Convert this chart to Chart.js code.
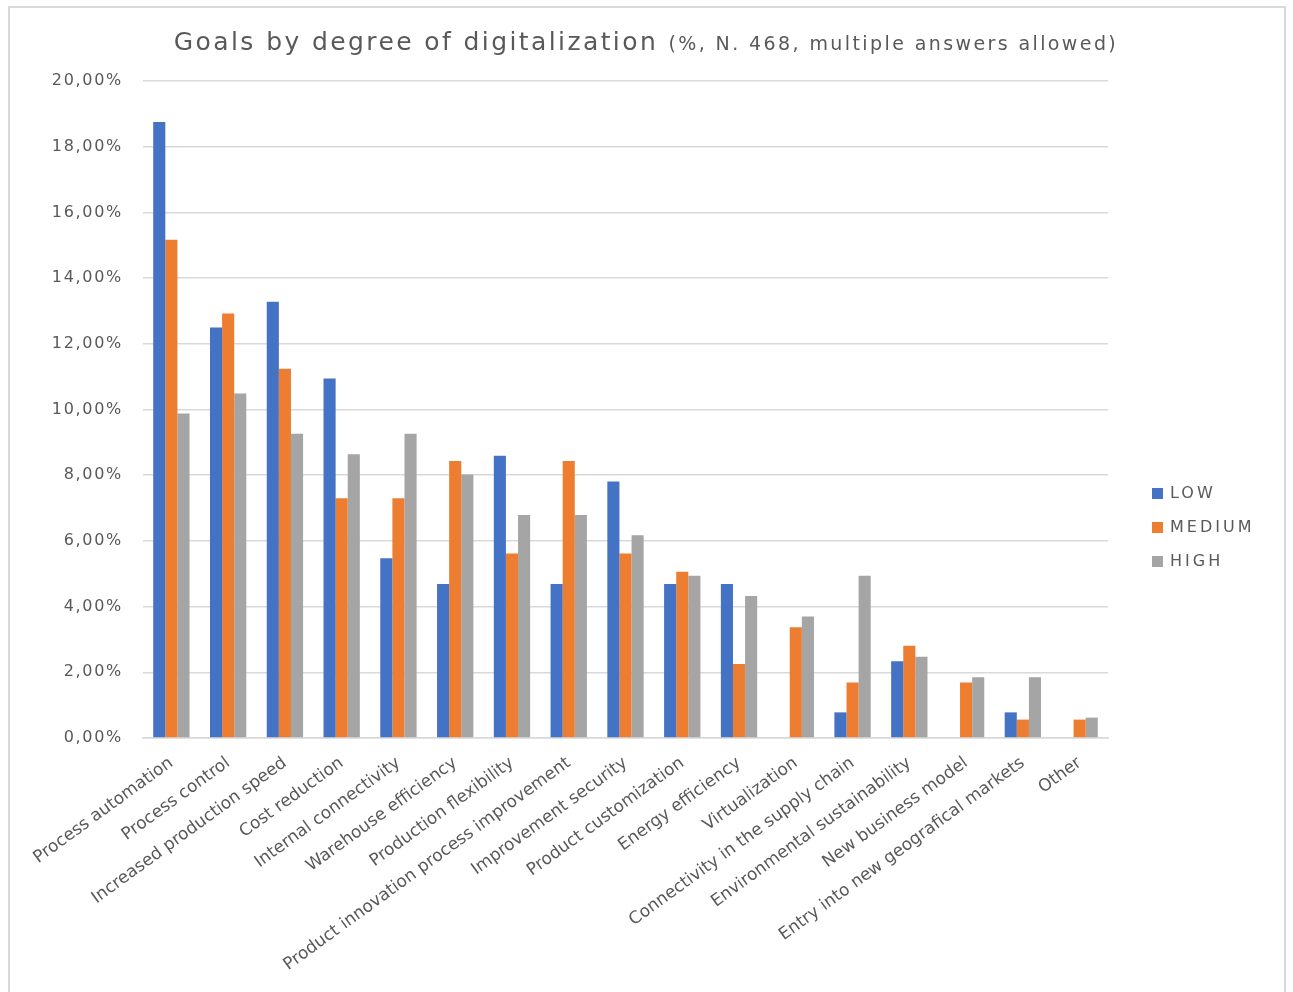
<!DOCTYPE html>
<html>
<head>
<meta charset="utf-8">
<title>Goals by degree of digitalization</title>
<script src="https://cdn.jsdelivr.net/npm/chart.js@4.4.0/dist/chart.umd.min.js"></script>
<style>
  html, body { margin: 0; padding: 0; background: #fff; }
  #moldura { position: absolute; left: 8px; top: 6px; width: 1274px; height: 990px; border: 2px solid #d9d9d9; border-bottom: none; }
  #wrap { position: absolute; left: 0; top: 0; width: 1293px; height: 992px; }
</style>
</head>
<body>
<div id="moldura"></div>
<div id="wrap"><canvas id="grafico"></canvas></div>
<script>
// Dados (% de respostas por grau de digitalização)
const categorias = [
  "Process automation", "Process control", "Increased production speed", "Cost reduction",
  "Internal connectivity", "Warehouse efficiency", "Production flexibility",
  "Product innovation process improvement", "Improvement security", "Product customization",
  "Energy efficiency", "Virtualization", "Connectivity in the supply chain",
  "Environmental sustainability", "New business model", "Entry into new geografical markets", "Other"
];
const low    = [18.75, 12.50, 13.28, 10.94, 5.47, 4.69, 8.59, 4.69, 7.81, 4.69, 4.69, 0, 0.78, 2.34, 0, 0.78, 0];
const medium = [15.17, 12.92, 11.24, 7.30, 7.30, 8.43, 5.62, 8.43, 5.62, 5.06, 2.25, 3.37, 1.69, 2.81, 1.69, 0.56, 0.56];
const high   = [9.88, 10.49, 9.26, 8.64, 9.26, 8.02, 6.79, 6.79, 6.17, 4.94, 4.32, 3.70, 4.94, 2.47, 1.85, 1.85, 0.62];
const nomesSeries = ["LOW", "MEDIUM", "HIGH"];
const cores = ["#4472C4", "#ED7D31", "#A5A5A5"];
const tituloPrincipal = "Goals by degree of digitalization";
const tituloExtra = "(%, N. 468, multiple answers allowed)";

const fonte = "'DejaVu Sans', sans-serif";
const cinza = "#595959";

// Título com dois tamanhos + legenda à direita
const extras = {
  id: 'extras',
  afterDatasetsDraw(chart) {
    // rótulos do eixo y (z = 1) saem um pouco mais largos
    chart.ctx.letterSpacing = '1.7px';
  },
  afterDraw(chart) {
    const ctx = chart.ctx;
    ctx.save();
    ctx.fillStyle = cinza;
    ctx.textBaseline = 'alphabetic';
    ctx.letterSpacing = '2.4px';
    ctx.font = "25px " + fonte;
    const w1 = ctx.measureText(tituloPrincipal + " ").width;
    ctx.font = "19px " + fonte;
    const w2 = ctx.measureText(tituloExtra).width;
    let x = 646 - (w1 + w2) / 2;
    ctx.font = "25px " + fonte;
    ctx.fillText(tituloPrincipal + " ", x, 50);
    ctx.font = "19px " + fonte;
    ctx.fillText(tituloExtra, x + w1, 50);

    // legenda
    ctx.letterSpacing = '3px';
    ctx.font = "16px " + fonte;
    ctx.textBaseline = 'middle';
    chart.data.datasets.forEach((ds, i) => {
      const y = 493 + i * 34;
      ctx.fillStyle = ds.backgroundColor;
      ctx.fillRect(1152, y - 5, 11, 11);
      ctx.fillStyle = cinza;
      ctx.fillText(ds.label, 1170, y + 1);
    });
    ctx.restore();
    ctx.letterSpacing = '0px';
  }
};

const ctx = document.getElementById("grafico").getContext("2d");
new Chart(ctx, {
  type: 'bar',
  data: {
    labels: categorias,
    datasets: [
      { label: nomesSeries[0], data: low, backgroundColor: cores[0] },
      { label: nomesSeries[1], data: medium, backgroundColor: cores[1] },
      { label: nomesSeries[2], data: high, backgroundColor: cores[2] }
    ]
  },
  options: {
    responsive: true,
    maintainAspectRatio: false,
    animation: false,
    layout: { padding: { top: 81, right: 185, bottom: 0, left: 0 } },
    datasets: { bar: { categoryPercentage: 0.64, barPercentage: 1.0 } },
    plugins: {
      legend: { display: false },
      title: { display: false },
      tooltip: { enabled: false }
    },
    scales: {
      x: {
        grid: { display: false },
        border: { color: '#d9d9d9', width: 1.5 },
        ticks: {
          color: cinza,
          font: { family: fonte, size: 17 },
          minRotation: 36,
          maxRotation: 36,
          autoSkip: false,
          padding: 7
        },
        afterFit: s => { s.height = 254; }
      },
      y: {
        min: 0,
        max: 20,
        grid: { color: '#d9d9d9', lineWidth: 1.5, drawTicks: false },
        border: { display: false },
        ticks: {
          z: 1,
          stepSize: 2,
          color: cinza,
          font: { family: fonte, size: 16 },
          padding: 20,
          callback: v => v.toFixed(2).replace('.', ',') + '%'
        },
        afterFit: s => { s.width = 143; }
      }
    }
  },
  plugins: [extras]
});
</script>
</body>
</html>
